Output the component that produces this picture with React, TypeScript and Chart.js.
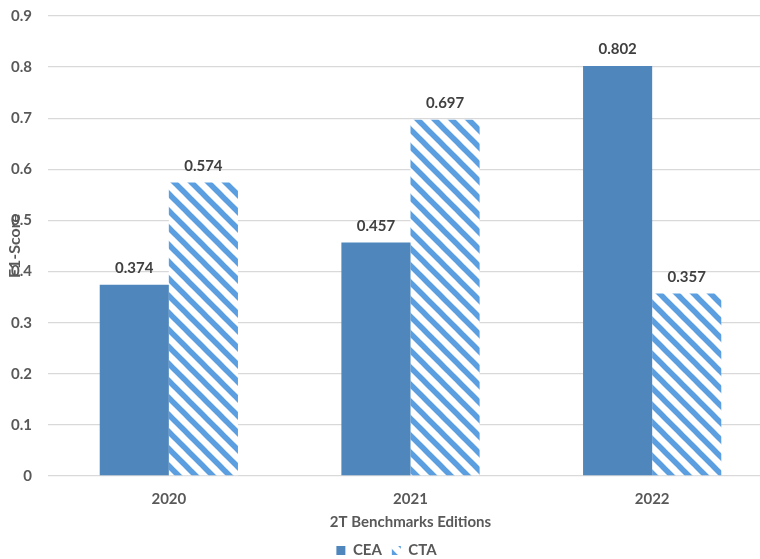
import React, { useEffect, useRef } from "react";
import { Chart, registerables } from "chart.js";

Chart.register(...registerables);

const categories = ["2020", "2021", "2022"];
const ceaValues = [0.374, 0.457, 0.802];
const ctaValues = [0.574, 0.697, 0.357];
const seriesNames = ["CEA", "CTA"];
const yTicks = [0, 0.1, 0.2, 0.3, 0.4, 0.5, 0.6, 0.7, 0.8, 0.9];
const xTitle = "2T Benchmarks Editions";
const yTitle = "F1-Score";

const FONT = "Lato, 'Open Sans', sans-serif";
const SOLID = "#4f87bd";
const STRIPE = "#5b9fe0";

function makeHatch(): CanvasPattern | string {
  const s = 17;
  const c = document.createElement("canvas");
  c.width = s;
  c.height = s;
  const ctx = c.getContext("2d");
  if (!ctx) return STRIPE;
  ctx.fillStyle = "#ffffff";
  ctx.fillRect(0, 0, s, s);
  ctx.strokeStyle = STRIPE;
  ctx.lineWidth = 5.5;
  for (const off of [-s, 0, s]) {
    ctx.beginPath();
    ctx.moveTo(-2, off - 2);
    ctx.lineTo(s + 2, off + s + 2);
    ctx.stroke();
  }
  const p = ctx.createPattern(c, "repeat");
  return p || STRIPE;
}

const labelPlugin = {
  id: "valueLabels",
  afterDatasetsDraw(chart: any) {
    const ctx = chart.ctx;
    ctx.save();
    ctx.font = `bold 15px ${FONT}`;
    ctx.fillStyle = "#404040";
    ctx.textAlign = "center";
    ctx.textBaseline = "bottom";
    chart.data.datasets.forEach((ds: any, i: number) => {
      const meta = chart.getDatasetMeta(i);
      meta.data.forEach((bar: any, j: number) => {
        const v = ds.data[j];
        ctx.fillText(v.toFixed(3), bar.x, bar.y - 9);
      });
    });
    // y title drawn over ticks like the reference
    ctx.translate(15, (chart.chartArea.top + chart.chartArea.bottom) / 2);
    ctx.rotate(-Math.PI / 2);
    ctx.textBaseline = "middle";
    ctx.font = `bold 16px ${FONT}`;
    ctx.fillStyle = "#595959";
    ctx.fillText(yTitle, 0, 0);
    ctx.restore();
  },
};

export default function App() {
  const ref = useRef<HTMLCanvasElement | null>(null);

  useEffect(() => {
    if (!ref.current) return;
    const hatch = makeHatch();
    const chart = new Chart(ref.current, {
      type: "bar",
      data: {
        labels: categories,
        datasets: [
          {
            label: seriesNames[0],
            data: ceaValues,
            backgroundColor: SOLID,
            borderWidth: 0,
          },
          {
            label: seriesNames[1],
            data: ctaValues,
            backgroundColor: hatch as any,
            borderWidth: 0,
          },
        ],
      },
      options: {
        responsive: false,
        animation: false,
        layout: { padding: { top: 6, right: 3, bottom: 0, left: 0 } },
        datasets: {
          bar: { barPercentage: 1, categoryPercentage: 0.572 },
        } as any,
        plugins: {
          tooltip: { enabled: false },
          legend: {
            position: "bottom",
            labels: {
              boxWidth: 9,
              boxHeight: 9,
              padding: 10,
              color: "#595959",
              font: { family: FONT, size: 15, weight: "bold" },
            },
          },
        },
        scales: {
          x: {
            afterFit(scale: any) {
              scale.height = 57;
            },
            grid: { display: false },
            border: { display: false },
            ticks: {
              color: "#595959",
              font: { family: FONT, size: 15, weight: "bold" },
              padding: 6,
            },
            title: {
              display: true,
              text: xTitle,
              color: "#595959",
              font: { family: FONT, size: 15, weight: "bold" },
              padding: { top: 4, bottom: 2 },
            },
          },
          y: {
            min: 0,
            max: 0.9,
            afterFit(scale: any) {
              scale.width = 48;
            },
            afterBuildTicks(scale: any) {
              scale.ticks = yTicks.map((v) => ({ value: v }));
            },
            grid: { color: "#d9d9d9", lineWidth: 1.3, drawTicks: false },
            border: { display: false },
            ticks: {
              color: "#595959",
              font: { family: FONT, size: 15, weight: "bold" },
              padding: 16,
              callback: (v: any) => (v === 0 ? "0" : Number(v).toFixed(1)),
            },
          },
        },
      } as any,
      plugins: [labelPlugin],
    });
    return () => chart.destroy();
  }, []);

  return (
    <div
      style={{
        position: "fixed",
        left: 0,
        top: 0,
        width: 760,
        height: 559,
        overflow: "hidden",
        background: "#ffffff",
      }}
    >
      <canvas
        ref={ref}
        width={776}
        height={577}
        style={{ display: "block", position: "absolute", left: 0, top: -9 }}
      />
    </div>
  );
}
